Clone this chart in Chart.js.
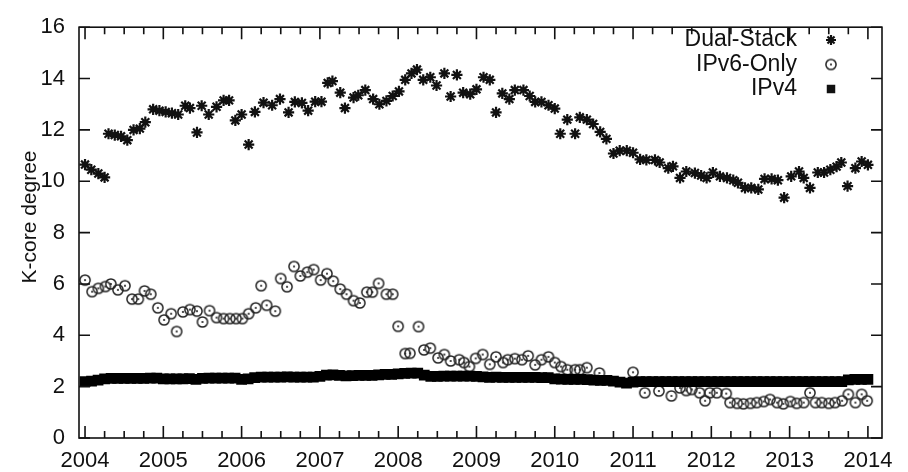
<!DOCTYPE html>
<html>
<head>
<meta charset="utf-8">
<script src="https://cdn.jsdelivr.net/npm/chart.js@4.4.1/dist/chart.umd.min.js"></script>
<style>
  html, body { margin: 0; padding: 0; background: #fff; }
</style>
</head>
<body>
<canvas id="kcore" width="908" height="472"></canvas>
<script>
/* =========================
   DATA
   ========================= */
const seriesNames = ["Dual-Stack", "IPv6-Only", "IPv4"];
const yTitle = "K-core degree";

const dualStackYears = [
  2004.00, 2004.08, 2004.17, 2004.25, 2004.30, 2004.38, 2004.46, 2004.54, 2004.62, 2004.70,
  2004.77, 2004.87, 2004.95, 2005.03, 2005.11, 2005.19, 2005.28, 2005.34, 2005.43, 2005.49,
  2005.58, 2005.68, 2005.77, 2005.84, 2005.92, 2006.00, 2006.09, 2006.17, 2006.28, 2006.39,
  2006.49, 2006.60, 2006.68, 2006.77, 2006.85, 2006.94, 2007.02, 2007.10, 2007.16, 2007.26,
  2007.32, 2007.43, 2007.49, 2007.58, 2007.68, 2007.76, 2007.85, 2007.93, 2008.01, 2008.09,
  2008.17, 2008.24, 2008.32, 2008.41, 2008.49, 2008.59, 2008.67, 2008.75, 2008.83, 2008.92,
  2009.00, 2009.09, 2009.17, 2009.25, 2009.33, 2009.42, 2009.49, 2009.60, 2009.68, 2009.75,
  2009.83, 2009.92, 2010.00, 2010.07, 2010.16, 2010.26, 2010.32, 2010.41, 2010.49, 2010.58,
  2010.66, 2010.75, 2010.83, 2010.92, 2011.00, 2011.09, 2011.17, 2011.28, 2011.34, 2011.45,
  2011.51, 2011.60, 2011.68, 2011.79, 2011.87, 2011.94, 2012.02, 2012.11, 2012.20, 2012.28,
  2012.34, 2012.43, 2012.51, 2012.60, 2012.68, 2012.77, 2012.85, 2012.93, 2013.02, 2013.12,
  2013.18, 2013.26, 2013.36, 2013.44, 2013.52, 2013.60, 2013.66, 2013.74, 2013.84, 2013.92,
  2014.00
];
const dualStackValues = [
  10.65, 10.45, 10.3, 10.15, 11.85, 11.8, 11.75, 11.6, 12.0, 12.05,
  12.3, 12.8, 12.75, 12.7, 12.65, 12.6, 12.94, 12.85, 11.9, 12.94,
  12.6, 12.9, 13.15, 13.15, 12.37, 12.6, 11.43, 12.7, 13.06, 12.96,
  13.2, 12.68, 13.09, 13.05, 12.75, 13.1, 13.1, 13.83, 13.9, 13.45,
  12.85, 13.26, 13.35, 13.55, 13.2, 13.0, 13.13, 13.32, 13.5, 13.95,
  14.2, 14.35, 13.95, 14.05, 13.73, 14.2, 13.3, 14.14, 13.45, 13.39,
  13.58, 14.05, 13.95, 12.68, 13.42, 13.2, 13.55, 13.55, 13.32, 13.09,
  13.09, 12.96, 12.83, 11.85, 12.4, 11.85, 12.49, 12.4, 12.23, 11.92,
  11.65, 11.08, 11.19, 11.19, 11.11, 10.85, 10.83, 10.83, 10.73, 10.51,
  10.58, 10.13, 10.38, 10.32, 10.22, 10.13, 10.34, 10.19, 10.13, 10.04,
  9.94, 9.74, 9.74, 9.68, 10.09, 10.09, 10.04, 9.36, 10.19, 10.38,
  10.13, 9.74, 10.34, 10.34, 10.45, 10.57, 10.73, 9.81, 10.51, 10.77,
  10.64
];

const ipv6Years = [
  2004.00, 2004.09, 2004.17, 2004.26, 2004.33, 2004.42, 2004.51, 2004.60, 2004.68, 2004.76,
  2004.84, 2004.93, 2005.01, 2005.10, 2005.17, 2005.25, 2005.34, 2005.43, 2005.50, 2005.59,
  2005.68, 2005.77, 2005.85, 2005.93, 2006.01, 2006.09, 2006.18, 2006.25, 2006.32, 2006.43,
  2006.50, 2006.58, 2006.67, 2006.75, 2006.84, 2006.92, 2007.01, 2007.09, 2007.17, 2007.26,
  2007.34, 2007.43, 2007.51, 2007.60, 2007.67, 2007.75, 2007.85, 2007.93, 2008.00, 2008.09,
  2008.15, 2008.26, 2008.33, 2008.41, 2008.51, 2008.59, 2008.67, 2008.78, 2008.84, 2008.91,
  2008.99, 2009.08, 2009.17, 2009.25, 2009.34, 2009.40, 2009.49, 2009.58, 2009.66, 2009.75,
  2009.83, 2009.92, 2010.00, 2010.08, 2010.16, 2010.26, 2010.32, 2010.41, 2010.57, 2011.00,
  2011.15, 2011.33, 2011.49, 2011.60, 2011.68, 2011.75, 2011.85, 2011.92, 2011.98, 2012.07,
  2012.19, 2012.24, 2012.33, 2012.41, 2012.50, 2012.58, 2012.67, 2012.75, 2012.84, 2012.92,
  2013.01, 2013.09, 2013.18, 2013.26, 2013.33, 2013.41, 2013.50, 2013.58, 2013.67, 2013.75,
  2013.84, 2013.92, 2013.99
];
const ipv6Values = [
  6.15, 5.7, 5.83, 5.9, 6.0, 5.77, 5.93, 5.41, 5.41, 5.73,
  5.6, 5.07, 4.6, 4.84, 4.15, 4.91, 5.0, 4.94, 4.52, 4.96,
  4.69, 4.65, 4.65, 4.65, 4.65, 4.84, 5.07, 5.93, 5.17, 4.94,
  6.21, 5.89, 6.68, 6.31, 6.46, 6.56, 6.15, 6.4, 6.11, 5.8,
  5.6, 5.35, 5.26, 5.68, 5.68, 6.02, 5.6, 5.6, 4.35, 3.29,
  3.3, 4.34, 3.43, 3.5, 3.12, 3.25, 3.0, 3.05, 2.94, 2.78,
  3.1, 3.25, 2.87, 3.16, 2.94, 3.05, 3.09, 3.05, 3.2, 2.85,
  3.05, 3.16, 2.94, 2.78, 2.66, 2.66, 2.66, 2.74, 2.53, 2.56,
  1.76, 1.83, 1.64, 1.95, 1.85, 1.89, 1.76, 1.45, 1.76, 1.76,
  1.73, 1.38, 1.35, 1.33, 1.35, 1.38, 1.42, 1.5, 1.38, 1.33,
  1.42, 1.35, 1.38, 1.76, 1.38, 1.38, 1.35, 1.38, 1.45, 1.7,
  1.38, 1.7, 1.45
];

// IPv4: one value per month, Jan 2004 .. Jan 2014
const ipv4StartYear = 2004;
const ipv4Values = [
  2.2, 2.22, 2.25, 2.3, 2.32, 2.32, 2.32, 2.32, 2.32, 2.32, 2.33, 2.33,
  2.3, 2.3, 2.3, 2.3, 2.31, 2.28, 2.32, 2.33, 2.33, 2.33, 2.33, 2.33,
  2.28, 2.3, 2.35, 2.37, 2.37, 2.37, 2.37, 2.38, 2.37, 2.37, 2.37, 2.37,
  2.4, 2.45, 2.46, 2.44, 2.42, 2.43, 2.44, 2.44, 2.44, 2.46, 2.48, 2.48,
  2.5, 2.52, 2.53, 2.53, 2.45, 2.4, 2.4, 2.41, 2.41, 2.41, 2.41, 2.41,
  2.4, 2.38, 2.36, 2.37, 2.36, 2.36, 2.36, 2.36, 2.36, 2.36, 2.35, 2.35,
  2.3, 2.29, 2.28, 2.28, 2.28, 2.27, 2.25, 2.24, 2.24, 2.22, 2.18, 2.14,
  2.18, 2.2, 2.2, 2.2, 2.2, 2.2, 2.2, 2.2, 2.2, 2.2, 2.2, 2.2,
  2.2, 2.2, 2.2, 2.2, 2.2, 2.2, 2.2, 2.2, 2.2, 2.2, 2.2, 2.2,
  2.2, 2.2, 2.2, 2.2, 2.2, 2.2, 2.2, 2.2, 2.2, 2.26, 2.28, 2.28,
  2.28
];

const xTickYears = [2004, 2005, 2006, 2007, 2008, 2009, 2010, 2011, 2012, 2013, 2014];
const yTickValues = [0, 2, 4, 6, 8, 10, 12, 14, 16];

/* =========================
   MARKERS
   ========================= */
const FONT = "'Liberation Sans', Arial, Helvetica, sans-serif";

function ringDot() {
  const c = document.createElement("canvas");
  c.width = 14;
  c.height = 14;
  const g = c.getContext("2d");
  g.strokeStyle = "#222";
  g.lineWidth = 1.5;
  g.beginPath();
  g.arc(7, 7, 5.1, 0, Math.PI * 2);
  g.stroke();
  g.fillStyle = "#222";
  g.beginPath();
  g.arc(7, 7, 1.1, 0, Math.PI * 2);
  g.fill();
  return c;
}
const ringMarker = ringDot();

function pairs(xs, ys) {
  return xs.map((x, i) => ({ x, y: ys[i] }));
}

/* =========================
   FRAME, INWARD TICKS, LEGEND, Y TITLE
   ========================= */
const frameTicks = {
  id: "frameTicks",
  afterDraw(chart) {
    const { ctx, chartArea: a, scales } = chart;
    const xs = scales.x;
    const ys = scales.y;
    ctx.save();
    ctx.strokeStyle = "#111";
    ctx.lineWidth = 1.6;
    ctx.strokeRect(a.left, a.top, a.right - a.left, a.bottom - a.top);

    ctx.beginPath();
    for (let q = 0; q <= 40; q++) {
      const px = xs.getPixelForValue(2004 + q / 4);
      const len = q % 4 === 0 ? 12 : 7;
      ctx.moveTo(px, a.bottom);
      ctx.lineTo(px, a.bottom - len);
      ctx.moveTo(px, a.top);
      ctx.lineTo(px, a.top + len);
    }
    yTickValues.forEach((v) => {
      const py = ys.getPixelForValue(v);
      ctx.moveTo(a.left, py);
      ctx.lineTo(a.left + 11, py);
      ctx.moveTo(a.right, py);
      ctx.lineTo(a.right - 11, py);
    });
    ctx.stroke();

    // y title
    ctx.fillStyle = "#111";
    ctx.font = `21px ${FONT}`;
    ctx.textAlign = "center";
    ctx.textBaseline = "middle";
    ctx.save();
    ctx.translate(30, 217);
    ctx.rotate(-Math.PI / 2);
    ctx.fillText(yTitle, 0, 0);
    ctx.restore();

    // legend, gnuplot style: text right aligned, marker on the right
    const rows = [40, 64.5, 89];
    ctx.font = `23px ${FONT}`;
    ctx.textAlign = "right";
    chart.data.datasets.forEach((d, i) => {
      ctx.fillText(d.label, 797, rows[i]);
      ctx.save();
      ctx.strokeStyle = "#111";
      ctx.fillStyle = "#111";
      ctx.lineWidth = d.borderWidth || 1;
      Chart.helpers.drawPoint(
        ctx,
        {
          pointStyle: d.pointStyle,
          radius: d.legendRadius,
          borderWidth: d.borderWidth,
          rotation: 0,
        },
        831,
        rows[i]
      );
      ctx.restore();
    });
    ctx.restore();
  },
};

/* =========================
   CHART
   ========================= */
new Chart(document.getElementById("kcore"), {
  type: "scatter",
  data: {
    datasets: [
      {
        label: seriesNames[0],
        data: pairs(dualStackYears, dualStackValues),
        pointStyle: "star",
        pointRadius: 5.6,
        legendRadius: 5,
        borderWidth: 2.2,
        borderColor: "#111",
        backgroundColor: "#111",
        order: 2,
      },
      {
        label: seriesNames[1],
        data: pairs(ipv6Years, ipv6Values),
        pointStyle: ringMarker,
        pointRadius: 6,
        legendRadius: 6,
        borderWidth: 1.5,
        borderColor: "#222",
        backgroundColor: "#222",
        order: 1,
      },
      {
        label: seriesNames[2],
        data: ipv4Values.map((v, i) => ({ x: ipv4StartYear + i / 12, y: v })),
        pointStyle: "rect",
        pointRadius: 7.6,
        legendRadius: 6,
        borderWidth: 0,
        borderColor: "#000",
        backgroundColor: "#000",
        order: 0,
      },
    ],
  },
  options: {
    responsive: false,
    animation: false,
    events: [],
    layout: { padding: { left: 0, top: 17, right: 26, bottom: 0 } },
    plugins: {
      legend: { display: false },
      tooltip: { enabled: false },
    },
    scales: {
      x: {
        type: "linear",
        min: 2003.923,
        max: 2014.18,
        grid: { display: false, drawTicks: false },
        border: { display: false },
        afterBuildTicks: (s) => {
          s.ticks = xTickYears.map((v) => ({ value: v }));
        },
        afterFit: (s) => {
          s.height = 34;
        },
        ticks: {
          color: "#111",
          padding: 10,
          autoSkip: false,
          maxRotation: 0,
          font: { family: FONT, size: 22 },
          callback: (v) => String(v),
        },
      },
      y: {
        min: 0,
        max: 16,
        grid: { display: false, drawTicks: false },
        border: { display: false },
        afterBuildTicks: (s) => {
          s.ticks = yTickValues.map((v) => ({ value: v }));
        },
        afterFit: (s) => {
          s.width = 79;
        },
        ticks: {
          color: "#111",
          padding: 14,
          font: { family: FONT, size: 22 },
          callback: (v) => String(v),
        },
      },
    },
  },
  plugins: [frameTicks],
});
</script>
</body>
</html>
